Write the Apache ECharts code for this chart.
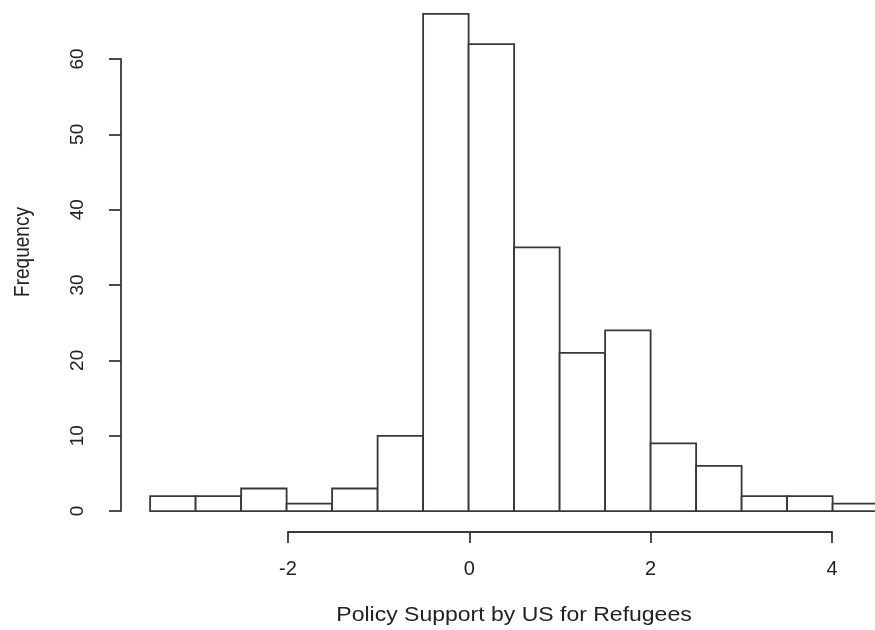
<!DOCTYPE html>
<html>
<head>
<meta charset="utf-8">
<script src="https://cdn.jsdelivr.net/npm/echarts@6/dist/echarts.min.js"></script>
<style>
  html, body { margin: 0; padding: 0; background: #fff; }
  #chart { width: 875px; height: 630px; }
</style>
</head>
<body>
<div id="chart"></div>
<script>
// Histogram bin edges and counts
const binEdges = [-3.5, -3, -2.5, -2, -1.5, -1, -0.5, 0, 0.5, 1, 1.5, 2, 2.5, 3, 3.5, 4, 4.5];
const counts = [2, 2, 3, 1, 3, 10, 66, 62, 35, 21, 24, 9, 6, 2, 2, 1];

// Axis ticks
const xTicks = [-2, 0, 2, 4];
const yTicks = [0, 10, 20, 30, 40, 50, 60];

const xTitle = 'Policy Support by US for Refugees';
const yTitle = 'Frequency';

const ink = '#383838';
const lw = 1.8;
const font = 'Liberation Sans, Arial, sans-serif';

const bins = counts.map((c, i) => [binEdges[i], binEdges[i + 1], c]);

const chart = echarts.init(document.getElementById('chart'), null, { renderer: 'canvas' });

chart.setOption({
  backgroundColor: '#ffffff',
  animation: false,
  grid: [
    // plotting region (bars); the data range runs past the right edge
    { left: 121, top: 0, width: 754, height: 531, containLabel: false },
    // y axis (0..60)
    { left: 121, top: 59, width: 100, height: 452, containLabel: false },
    // x axis (-2..4)
    { left: 288, top: 432, width: 544, height: 100, containLabel: false }
  ],
  xAxis: [
    { gridIndex: 0, type: 'value', min: -3.82, max: 4.4657, show: false },
    { gridIndex: 1, type: 'value', min: 0, max: 1, show: false },
    {
      gridIndex: 2, type: 'value', min: xTicks[0], max: xTicks[xTicks.length - 1], interval: 2,
      position: 'bottom',
      axisLine: { show: true, lineStyle: { color: ink, width: lw } },
      axisTick: { show: true, length: 11, inside: false, lineStyle: { color: ink, width: lw } },
      splitLine: { show: false },
      axisLabel: { show: true, margin: 27, fontSize: 20, fontFamily: font, color: '#222' }
    }
  ],
  yAxis: [
    { gridIndex: 0, type: 'value', min: -2.64, max: 67.85, show: false },
    {
      gridIndex: 1, type: 'value', min: yTicks[0], max: yTicks[yTicks.length - 1], interval: 10,
      position: 'left',
      axisLine: { show: true, lineStyle: { color: ink, width: lw } },
      axisTick: { show: true, length: 12, inside: false, lineStyle: { color: ink, width: lw } },
      splitLine: { show: false },
      axisLabel: { show: true, rotate: 90, margin: 34, fontSize: 19, fontFamily: font, color: '#222' }
    },
    { gridIndex: 2, type: 'value', min: 0, max: 1, show: false }
  ],
  series: [
    {
      type: 'custom',
      xAxisIndex: 0,
      yAxisIndex: 0,
      clip: false,
      data: bins,
      renderItem: function (params, api) {
        const p0 = api.coord([api.value(0), api.value(2)]);
        const p1 = api.coord([api.value(1), 0]);
        return {
          type: 'rect',
          shape: { x: p0[0], y: p0[1], width: p1[0] - p0[0], height: p1[1] - p0[1] },
          style: { fill: '#ffffff', stroke: ink, lineWidth: lw }
        };
      }
    }
  ],
  graphic: [
    {
      type: 'text', x: 514, y: 615, scaleX: 1.15,
      style: { text: xTitle, font: '20px ' + font, fill: '#222', align: 'center', verticalAlign: 'middle' }
    },
    {
      type: 'text', x: 23, y: 252, rotation: Math.PI / 2, scaleY: 1.12,
      style: { text: yTitle, font: '19px ' + font, fill: '#222', align: 'center', verticalAlign: 'middle' }
    }
  ]
});
</script>
</body>
</html>
